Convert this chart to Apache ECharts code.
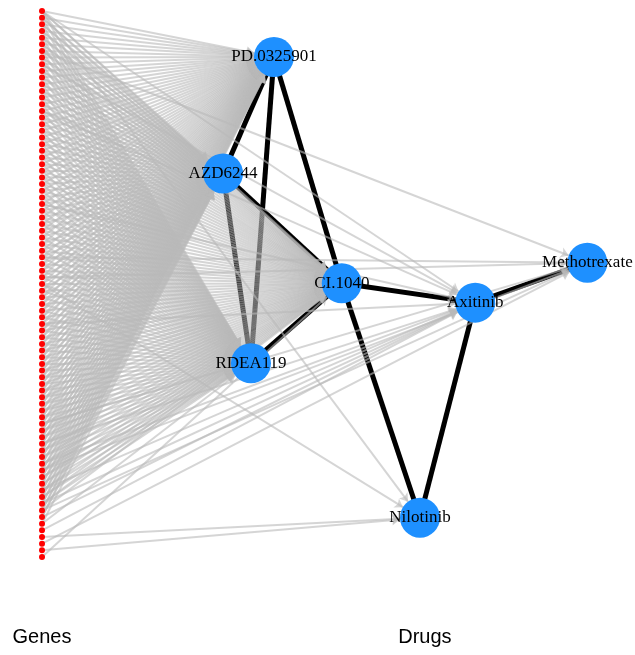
<!DOCTYPE html>
<html>
<head>
<meta charset="utf-8">
<script src="https://cdn.jsdelivr.net/npm/echarts@6/dist/echarts.min.js"></script>
<style>html,body{margin:0;padding:0;background:#fff}#c{width:635px;height:655px}</style>
</head>
<body>
<div id="c"></div>
<script>
// Drug nodes: name, x (layout units), y (gene-row units)
var drugNames = ["PD.0325901", "AZD6244", "CI.1040", "RDEA119", "Axitinib", "Methotrexate", "Nilotinib"];
var drugCodes = ["P", "A", "C", "R", "X", "M", "N"];
var drugX = [42.4, 33.1, 54.8, 38.2, 79.2, 99.7, 69.1];
var drugY = [7.9, 25.4, 41.9, 53.9, 44.8, 38.8, 77.1];

// Gene -> drug targets, one string per gene row (top to bottom), codes as in drugCodes
var geneTargets = [
  "PACRXN","PACR","PACR","PACR","PACR","PACR","PACRM","PACR","PACRX","PACR",
  "PACR","PACR","PACR","PACR","PACR","PACRX","PACR","PACR","PACR","PACR",
  "PACR","PACR","PACR","PACR","PACR","PACR","PACR","PACR","PACR","PACRX",
  "PACR","PACR","PACR","PACR","PACR","PACR","PACR","PACRM","PACR","PACR",
  "PACRM","PACRN","PACR","PACR","PACR","PACR","PACR","PACRX","PACR","PACR",
  "PACR","PACR","PACR","PACR","PACR","PACR","PACR","PACR","PACR","PACR",
  "PACR","PACR","PACRM","PACR","PACR","PACRX","PACR","PACR","PACRX","PACRM",
  "PACR","PACR","PACRX","PACR","PACRX","PACM","PAX","AR","X","N",
  "M","N","C"
];

// Drug-drug similarity edges
var drugLinks = [
  ["PD.0325901","AZD6244"],["PD.0325901","RDEA119"],["PD.0325901","CI.1040"],
  ["AZD6244","CI.1040"],["AZD6244","RDEA119"],["CI.1040","RDEA119"],
  ["CI.1040","Axitinib"],["CI.1040","Nilotinib"],["Axitinib","Nilotinib"],
  ["Axitinib","Methotrexate"]
];

var axisLabels = {0: "Genes", 70: "Drugs"};

var nodes = [];
var links = [];
geneTargets.forEach(function (t, i) {
  nodes.push({
    name: "gene" + (i + 1), value: [0, i + 1], symbolSize: 6,
    itemStyle: {color: "#ff0000"}, label: {show: false}
  });
});
drugNames.forEach(function (n, i) {
  nodes.push({
    name: n, value: [drugX[i], drugY[i]], symbolSize: 40,
    itemStyle: {color: "#1e90ff"},
    label: {show: true, position: "inside", color: "#000", fontFamily: "Liberation Serif", fontSize: 17}
  });
});
drugLinks.forEach(function (l) {
  links.push({source: l[0], target: l[1], symbol: ["none", "none"],
    lineStyle: {color: "#000", width: 5, opacity: 1}});
});
geneTargets.forEach(function (t, i) {
  for (var k = 0; k < t.length; k++) {
    var di = drugCodes.indexOf(t[k]);
    links.push({source: "gene" + (i + 1), target: drugNames[di]});
  }
});

var chart = echarts.init(document.getElementById("c"), null, {renderer: "canvas"});
chart.setOption({
  animation: false,
  backgroundColor: "#fff",
  grid: {left: 42, right: 46, top: 11, bottom: 98},
  xAxis: {
    type: "value", min: 0, max: 100,
    axisLine: {show: false}, axisTick: {show: false}, splitLine: {show: false},
    axisLabel: {
      customValues: [0, 70], margin: 70, color: "#000", fontSize: 20,
      fontFamily: "Liberation Sans",
      formatter: function (v) { return axisLabels[v] || ""; }
    }
  },
  yAxis: {
    type: "value", min: 1, max: 83, inverse: true, show: false
  },
  series: [{
    type: "graph", layout: "none", coordinateSystem: "cartesian2d",
    xAxisIndex: 0, yAxisIndex: 0,
    edgeSymbol: ["none", "arrow"], edgeSymbolSize: [0, 8],
    lineStyle: {color: "rgba(185,185,185,0.6)", width: 2, opacity: 1, curveness: 0},
    emphasis: {disabled: true},
    data: nodes,
    links: links
  }]
});
</script>
</body>
</html>
